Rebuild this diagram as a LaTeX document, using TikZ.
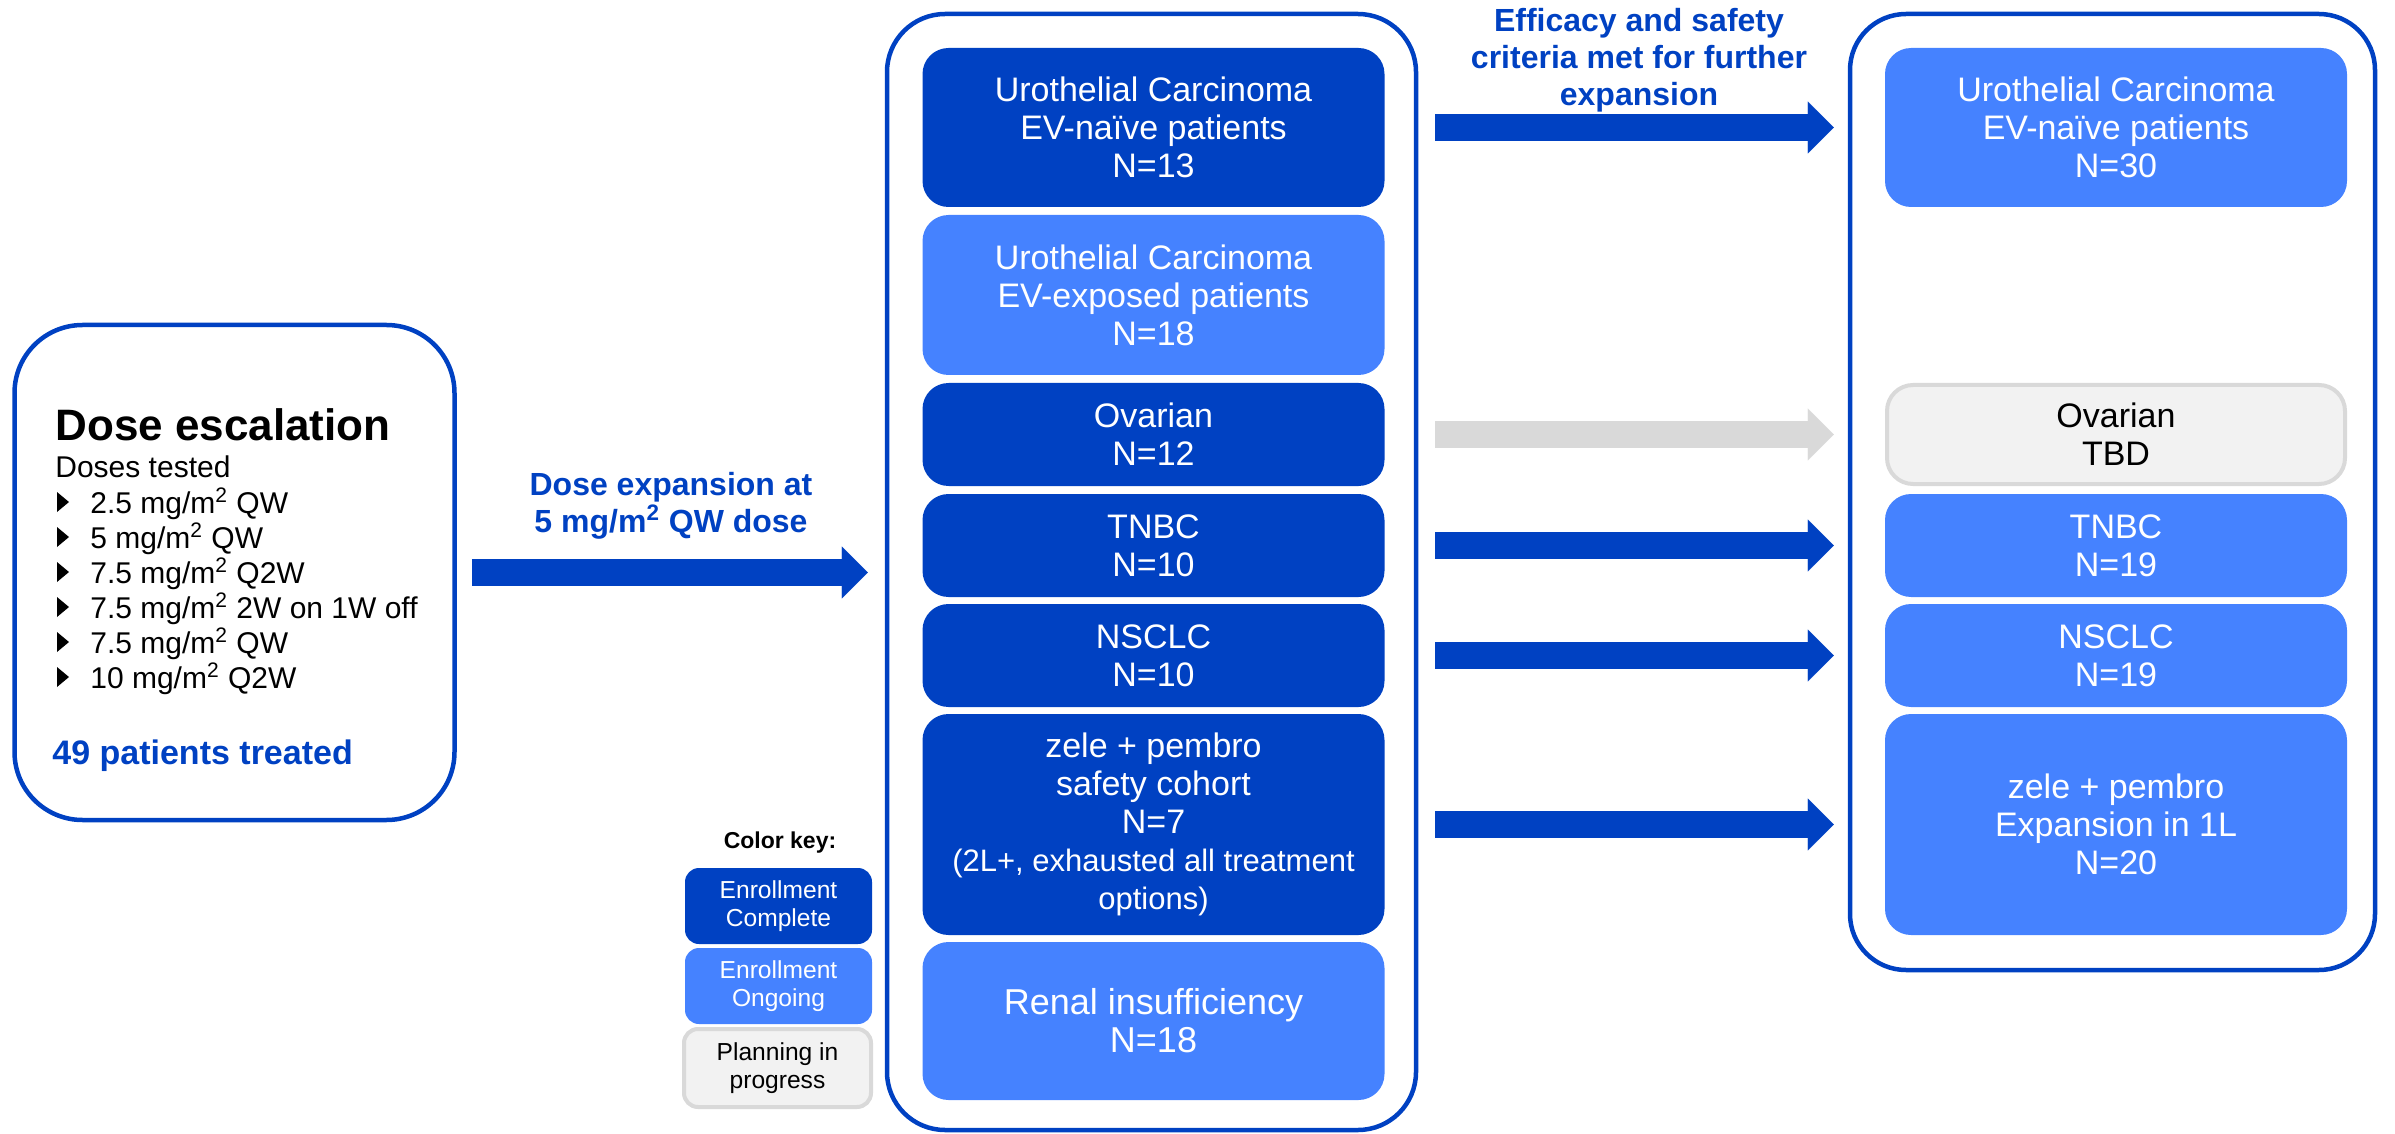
\documentclass[tikz,border=0pt]{standalone}
\usepackage{fontspec}
\setmainfont{Liberation Sans}
\usetikzlibrary{arrows.meta}
\definecolor{complete}{HTML}{0041C2}
\definecolor{ongoing}{HTML}{4582FF}
\definecolor{planfill}{HTML}{F2F2F2}
\definecolor{planedge}{HTML}{D9D9D9}

\newcommand\cohortfont{\fontsize{17pt}{19pt}\selectfont}
\newcommand\finerfont{\fontsize{15.5pt}{19pt}\selectfont}
\newcommand\mgsq{mg/m\textsuperscript{2}}

\tikzset{
    frame/.style={draw=complete, line width=2.25pt, rounded corners=#1},
    cohort/.style={rounded corners=13pt, align=center, inner sep=0pt,
        minimum width=231pt, font=\cohortfont},
    donebox/.style={cohort, fill=complete, text=white},
    ongoingbox/.style={cohort, fill=ongoing, text=white},
    planbox/.style={cohort, fill=planfill, draw=planedge, line width=2pt},
    keybox/.style={rounded corners=7pt, align=center, inner sep=0pt,
        minimum width=93.5pt, minimum height=38pt,
        font=\fontsize{12.3pt}{14pt}\selectfont},
    tagline/.style={align=center, text=complete,
        font=\fontsize{16pt}{18.5pt}\selectfont\bfseries},
    bigarrow/.style={line width=13.5pt,
        -{Triangle[width=26pt, length=13pt, line width=0.1pt]}}
}

\begin{document}
\begin{tikzpicture}[x=0.5pt, y=-0.5pt]
    \useasboundingbox (0, 0) rectangle (2395, 1134);

    % outer frames
    \node[frame=34pt, minimum width=220pt, minimum height=247.5pt] (esc) at (234.5, 572.5) {};
    \node[frame=29pt, minimum width=264.5pt, minimum height=558pt] (mid) at (1151.5, 572) {};
    \node[frame=28pt, minimum width=262.5pt, minimum height=478pt] (out) at (2112.5, 492) {};

    % dose escalation
    \node[anchor=base west, inner sep=0pt, font=\fontsize{22pt}{24pt}\selectfont\bfseries] (title) at (55, 440) {Dose escalation};
    \node[anchor=base west, inner sep=0pt, font=\fontsize{15pt}{17pt}\selectfont] (tested) at (55, 477) {Doses tested};
    \foreach \d [count=\i from 0] in {2.5 \mgsq{} QW, 5 \mgsq{} QW, 7.5 \mgsq{} Q2W, 7.5 \mgsq{} 2W on 1W off, 7.5 \mgsq{} QW, 10 \mgsq{} Q2W} {
        \fill (57, 492+35*\i) -- ++(12, 10) -- ++(-12, 10) -- cycle;
        \node[anchor=base west, inner sep=0pt, font=\fontsize{15pt}{17pt}\selectfont] (dose\i) at (90, 513+35*\i) {\d};
    }
    \node[anchor=base west, inner sep=0pt, text=complete, font=\fontsize{17pt}{19pt}\selectfont\bfseries] (treated) at (52, 764) {49 patients treated};

    % dose expansion cohorts
    \node[donebox, minimum height=79.5pt] (uc) at (1153.5, 127.5) {Urothelial Carcinoma\\EV-naïve patients\\N=13};
    \node[ongoingbox, minimum height=80pt] (ucx) at (1153.5, 295) {Urothelial Carcinoma\\EV-exposed patients\\N=18};
    \node[donebox, minimum height=51.5pt] (ov) at (1153.5, 434.5) {Ovarian\\N=12};
    \node[donebox, minimum height=51.5pt] (tn) at (1153.5, 545.5) {TNBC\\N=10};
    \node[donebox, minimum height=51.5pt] (ns) at (1153.5, 655.5) {NSCLC\\N=10};
    \node[donebox, minimum height=110.5pt] (zp) at (1153.5, 824.5) {zele + pembro\\safety cohort\\N=7\\{\finerfont (2L+, exhausted all treatment}\\{\finerfont options)}};
    \node[ongoingbox, minimum height=79pt, font=\fontsize{18pt}{19pt}\selectfont] (rn) at (1153.5, 1021) {Renal insufficiency\\N=18};

    % further expansion
    \node[ongoingbox, minimum height=79.5pt] (uc2) at (2116, 127.5) {Urothelial Carcinoma\\EV-naïve patients\\N=30};
    \node[planbox, minimum width=229pt, minimum height=49.5pt] (ov2) at (2116, 434.5) {Ovarian\\TBD};
    \node[ongoingbox, minimum height=51.5pt] (tn2) at (2116, 545.5) {TNBC\\N=19};
    \node[ongoingbox, minimum height=51.5pt] (ns2) at (2116, 655.5) {NSCLC\\N=19};
    \node[ongoingbox, minimum height=110.5pt] (zp2) at (2116, 824.5) {zele + pembro\\Expansion in 1L\\N=20};

    % colour key
    \node[font=\fontsize{11.5pt}{13pt}\selectfont\bfseries] (keyhead) at (780, 843) {Color key:};
    \node[keybox, fill=complete, text=white] (k1) at (778.5, 906) {Enrollment\\Complete};
    \node[keybox, fill=ongoing, text=white] (k2) at (778.5, 986) {Enrollment\\Ongoing};
    \node[keybox, fill=planfill, draw=planedge, line width=2pt, minimum width=93.5pt, minimum height=39pt] (k3) at (777.5, 1068) {Planning in\\progress};

    % arrows and their labels
    \draw[bigarrow, complete, shorten <=7.5pt, shorten >=8.5pt] (esc.east) -- (esc.east -| mid.west);
    \node[tagline] (grow) at (671, 506) {Dose expansion at\\5 \mgsq{} QW dose};

    \foreach \row/\hue in {uc/complete, ov/planedge, tn/complete, ns/complete, zp/complete}
        \draw[bigarrow, \hue, shorten <=8.5pt, shorten >=7pt] (\row.east -| mid.east) -- (\row.east -| out.west);
    \node[tagline] (met) at (1639, 60) {Efficacy and safety\\criteria met for further\\expansion};

\end{tikzpicture}
\end{document}
